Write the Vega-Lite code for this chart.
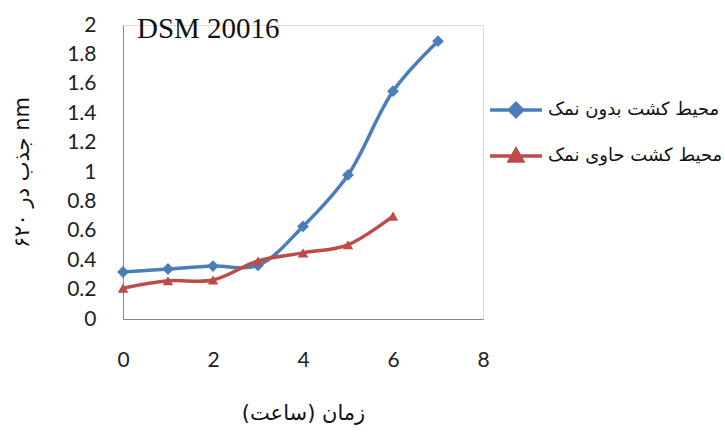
{
  "$schema": "https://vega.github.io/schema/vega-lite/v6.json",
  "autosize": "none",
  "width": 360,
  "height": 294,
  "padding": {"left": 123, "top": 25, "right": 242, "bottom": 113},
  "background": "white",
  "title": {
    "text": "DSM 20016",
    "anchor": "start",
    "frame": "group",
    "font": "Liberation Serif",
    "fontSize": 29,
    "fontWeight": "normal",
    "color": "#111",
    "orient": "top",
    "offset": 0,
    "baseline": "top",
    "dx": 14,
    "dy": 30
  },
  "data": {
    "values": [
      {"series": "محیط کشت بدون نمک", "hour": 0, "absorbance": 0.32},
      {"series": "محیط کشت بدون نمک", "hour": 1, "absorbance": 0.34},
      {"series": "محیط کشت بدون نمک", "hour": 2, "absorbance": 0.36},
      {"series": "محیط کشت بدون نمک", "hour": 3, "absorbance": 0.365},
      {"series": "محیط کشت بدون نمک", "hour": 4, "absorbance": 0.63},
      {"series": "محیط کشت بدون نمک", "hour": 5, "absorbance": 0.98},
      {"series": "محیط کشت بدون نمک", "hour": 6, "absorbance": 1.55},
      {"series": "محیط کشت بدون نمک", "hour": 7, "absorbance": 1.89},
      {"series": "محیط کشت حاوی نمک", "hour": 0, "absorbance": 0.21},
      {"series": "محیط کشت حاوی نمک", "hour": 1, "absorbance": 0.26},
      {"series": "محیط کشت حاوی نمک", "hour": 2, "absorbance": 0.265},
      {"series": "محیط کشت حاوی نمک", "hour": 3, "absorbance": 0.395},
      {"series": "محیط کشت حاوی نمک", "hour": 4, "absorbance": 0.45},
      {"series": "محیط کشت حاوی نمک", "hour": 5, "absorbance": 0.505},
      {"series": "محیط کشت حاوی نمک", "hour": 6, "absorbance": 0.70}
    ]
  },
  "encoding": {
    "x": {
      "field": "hour",
      "type": "quantitative",
      "scale": {"domain": [0, 8], "nice": false, "zero": false},
      "axis": {
        "values": [0, 2, 4, 6, 8],
        "title": "زمان (ساعت)",
        "titleFont": "DejaVu Sans",
        "titleFontSize": 21,
        "titleFontWeight": "normal",
        "titleColor": "#111",
        "titlePadding": 32,
        "labelFont": "Lato",
        "labelFontSize": 21,
        "labelColor": "#222",
        "labelPadding": 30,
        "labelFlush": false,
        "ticks": false,
        "grid": false,
        "domainColor": "#868686",
        "domainWidth": 1
      }
    },
    "y": {
      "field": "absorbance",
      "type": "quantitative",
      "scale": {"domain": [0, 2], "nice": false},
      "axis": {
        "values": [0, 0.2, 0.4, 0.6, 0.8, 1, 1.2, 1.4, 1.6, 1.8, 2],
        "format": "~g",
        "title": "جذب در ۶۲۰ nm",
        "titleFont": "DejaVu Sans",
        "titleFontSize": 21,
        "titleFontWeight": "normal",
        "titleColor": "#111",
        "titlePadding": 34,
        "labelFont": "Lato",
        "labelFontSize": 21,
        "labelColor": "#222",
        "labelPadding": 27,
        "labelFlush": false,
        "labelOverlap": false,
        "ticks": false,
        "grid": false,
        "domainColor": "#868686",
        "domainWidth": 1
      }
    }
  },
  "resolve": {"legend": {"color": "independent", "shape": "independent"}},
  "layer": [
    {
      "mark": {"type": "line", "interpolate": "catmull-rom", "strokeWidth": 3.5},
      "encoding": {
        "color": {
          "field": "series",
          "type": "nominal",
          "scale": {
            "domain": ["محیط کشت بدون نمک", "محیط کشت حاوی نمک"],
            "range": ["#4A7EBB", "#BE4B48"]
          },
          "legend": {
            "orient": "none",
            "legendX": 365,
            "legendY": 57,
            "title": null,
            "symbolSize": 2704,
            "symbolStrokeWidth": 3.5,
            "labelFont": "DejaVu Sans",
            "labelFontSize": 18,
            "labelColor": "#111",
            "labelOffset": 4,
            "labelLimit": 300,
            "rowPadding": 4,
            "padding": 0,
            "encode": {
              "symbols": {
                "update": {
                  "shape": {"signal": "datum.value === 'محیط کشت بدون نمک' ? 'M-1,0L1,0M-0.25,0L0,-0.25L0.25,0L0,0.25Z' : 'M-1,0L1,0M-0.25,0.19L0,-0.25L0.25,0.19Z'"},
                  "fill": {"signal": "datum.value === 'محیط کشت بدون نمک' ? '#4A7EBB' : '#BE4B48'"},
                  "fillOpacity": {"value": 1}
                }
              }
            }
          }
        }
      }
    },
    {
      "mark": {"type": "point", "filled": true, "opacity": 1},
      "encoding": {
        "color": {"field": "series", "type": "nominal", "legend": null},
        "shape": {
          "field": "series",
          "type": "nominal",
          "scale": {
            "domain": ["محیط کشت بدون نمک", "محیط کشت حاوی نمک"],
            "range": ["diamond", "triangle-up"]
          },
          "legend": null
        },
        "size": {
          "field": "series",
          "type": "nominal",
          "scale": {
            "domain": ["محیط کشت بدون نمک", "محیط کشت حاوی نمک"],
            "range": [140, 110]
          },
          "legend": null
        }
      }
    }
  ]
}
